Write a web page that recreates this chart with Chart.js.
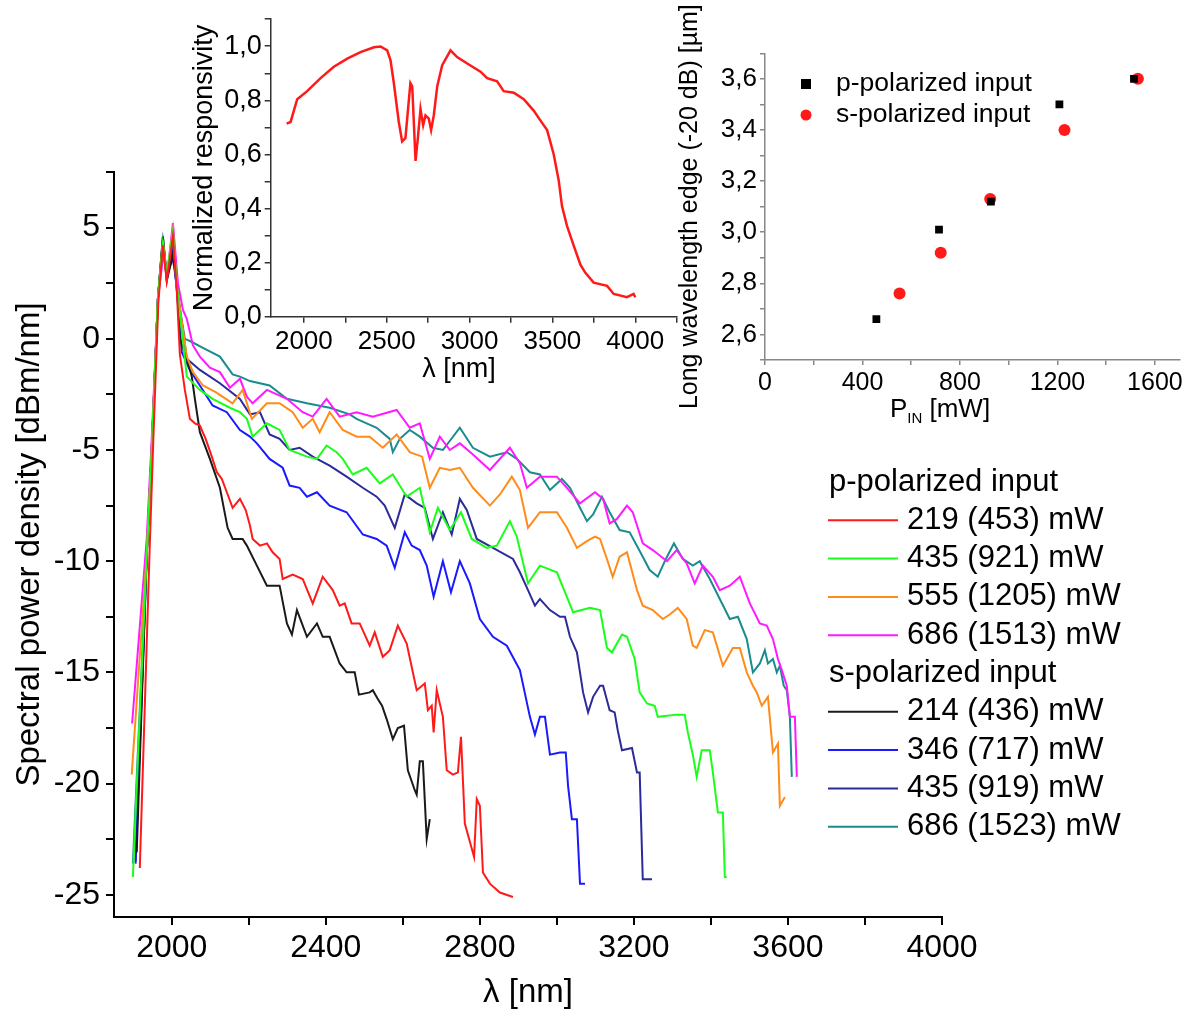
<!DOCTYPE html>
<html>
<head>
<meta charset="utf-8">
<script src="https://cdn.jsdelivr.net/npm/chart.js@4.4.1/dist/chart.umd.min.js"></script>
<style>
  body { margin: 0; background: #fff; }
  .wrap { position: relative; width: 1191px; height: 1013px; }
  canvas { position: absolute; }
</style>
</head>
<body>
<div class="wrap">
  <canvas id="spectra" width="1191" height="1013" style="left:0;top:0"></canvas>
  <canvas id="resp" width="550" height="400" style="left:150px;top:0"></canvas>
  <canvas id="edge" width="531" height="440" style="left:660px;top:0"></canvas>
</div>
<script>
// ---- main spectra: [wavelength nm, dBm/nm] ----
const p219 = [[1917,-23.8],[1943,-9.2],[1952,-4.6],[1965,1.6],[1977,4.2],[1987,2.6],[2003,4.6],[2013,2.2],[2021,-0.7],[2034,-2.3],[2047,-3.6],[2060,-3.8],[2073,-3.9],[2088,-4.5],[2104,-5.3],[2117,-6.0],[2130,-6.3],[2143,-6.9],[2158,-7.6],[2177,-7.2],[2192,-7.7],[2203,-8.4],[2210,-9.0],[2229,-9.3],[2247,-9.2],[2262,-9.6],[2280,-9.9],[2288,-10.8],[2314,-10.6],[2340,-10.8],[2366,-11.9],[2379,-11.3],[2392,-10.7],[2418,-11.3],[2436,-12.0],[2449,-11.9],[2467,-12.8],[2488,-12.8],[2514,-13.8],[2527,-13.2],[2548,-14.3],[2566,-14.0],[2587,-12.9],[2610,-13.7],[2636,-15.8],[2657,-15.5],[2665,-16.7],[2675,-16.5],[2680,-17.7],[2688,-15.8],[2704,-17.0],[2714,-19.4],[2730,-19.6],[2743,-19.5],[2751,-17.9],[2761,-21.8],[2785,-23.3],[2792,-20.7],[2800,-21.0],[2808,-24.0],[2826,-24.5],[2852,-24.9],[2886,-25.1]];
const p435 = [[1899,-24.2],[1935,-9.7],[1948,-5.0],[1964,1.8],[1977,4.3],[1987,2.9],[2003,4.8],[2013,2.4],[2039,-1.7],[2073,-2.3],[2106,-2.7],[2151,-3.1],[2177,-3.3],[2195,-3.6],[2210,-4.4],[2247,-3.8],[2280,-4.1],[2306,-5.0],[2351,-5.3],[2377,-5.4],[2402,-4.8],[2428,-5.1],[2444,-5.4],[2470,-6.1],[2506,-5.8],[2540,-6.5],[2574,-6.1],[2610,-7.1],[2644,-6.7],[2670,-8.7],[2691,-7.6],[2722,-8.6],[2751,-7.8],[2779,-9.0],[2818,-9.4],[2844,-9.3],[2878,-8.2],[2896,-8.9],[2925,-11.0],[2956,-10.2],[3000,-10.5],[3026,-11.6],[3042,-12.3],[3086,-12.1],[3112,-12.2],[3130,-13.9],[3143,-14.1],[3169,-13.3],[3182,-13.4],[3202,-14.4],[3215,-15.9],[3234,-16.4],[3254,-16.5],[3262,-17.0],[3311,-16.9],[3332,-16.9],[3340,-17.7],[3353,-18.7],[3363,-19.7],[3376,-18.5],[3397,-18.5],[3405,-19.5],[3418,-21.3],[3431,-21.3],[3436,-24.2],[3441,-24.2]];
const p555 = [[1896,-19.6],[1935,-9.7],[1948,-5.0],[1964,1.8],[1977,4.4],[1987,2.8],[2003,4.9],[2013,2.4],[2021,1.4],[2039,-0.8],[2055,-1.5],[2081,-2.1],[2114,-2.4],[2158,-2.9],[2184,-2.3],[2208,-3.6],[2247,-2.9],[2280,-2.9],[2314,-3.3],[2340,-4.0],[2366,-3.6],[2384,-4.2],[2410,-3.3],[2444,-4.1],[2480,-4.4],[2514,-4.4],[2548,-4.9],[2584,-4.3],[2618,-5.1],[2650,-5.3],[2670,-6.7],[2696,-5.8],[2722,-5.9],[2748,-5.8],[2782,-6.7],[2826,-7.5],[2852,-7.0],[2883,-6.2],[2904,-6.8],[2925,-8.5],[2956,-7.8],[3000,-7.8],[3026,-8.5],[3052,-9.4],[3078,-9.1],[3099,-8.9],[3112,-9.0],[3130,-9.9],[3145,-10.7],[3163,-9.8],[3182,-9.6],[3208,-11.3],[3223,-12.0],[3249,-12.2],[3275,-12.6],[3293,-12.4],[3314,-12.1],[3337,-12.6],[3353,-13.8],[3363,-13.9],[3384,-13.1],[3405,-13.2],[3431,-14.7],[3457,-13.9],[3475,-13.9],[3493,-15.0],[3509,-15.6],[3519,-15.9],[3532,-16.5],[3548,-16.1],[3561,-18.6],[3574,-18.2],[3579,-21.0],[3592,-20.6]];
const p686 = [[1897,-17.3],[1935,-9.0],[1948,-4.5],[1964,1.8],[1979,3.9],[1987,2.7],[2003,5.2],[2016,2.5],[2029,1.3],[2039,0.9],[2055,-0.3],[2073,-0.8],[2099,-1.3],[2125,-1.5],[2151,-2.2],[2177,-1.8],[2195,-2.6],[2210,-2.9],[2247,-2.3],[2299,-2.7],[2340,-3.3],[2366,-3.5],[2402,-2.7],[2436,-3.5],[2480,-3.3],[2522,-3.5],[2584,-3.2],[2618,-4.0],[2644,-3.8],[2670,-5.4],[2696,-4.4],[2722,-5.0],[2748,-4.7],[2782,-5.2],[2826,-5.9],[2878,-4.9],[2904,-5.6],[2922,-6.7],[2956,-6.2],[3000,-6.2],[3026,-6.7],[3060,-7.4],[3099,-6.9],[3120,-7.2],[3137,-8.3],[3156,-8.1],[3182,-7.5],[3197,-7.8],[3223,-9.2],[3249,-9.5],[3286,-10.0],[3311,-9.5],[3337,-10.1],[3358,-11.0],[3379,-10.2],[3405,-10.7],[3423,-11.3],[3449,-11.1],[3475,-10.7],[3501,-11.9],[3527,-12.8],[3545,-12.9],[3561,-13.5],[3574,-14.4],[3584,-14.9],[3597,-15.6],[3605,-17.0],[3618,-17.0],[3623,-19.7]];
const s214 = [[1909,-23.1],[1935,-9.7],[1948,-5.0],[1964,1.8],[1977,4.6],[1987,2.6],[2003,3.8],[2013,2.7],[2021,0.0],[2039,-0.9],[2052,-1.7],[2060,-2.7],[2073,-4.2],[2099,-5.4],[2125,-6.7],[2145,-8.5],[2158,-9.0],[2184,-9.0],[2195,-9.3],[2221,-10.2],[2247,-11.1],[2280,-11.1],[2299,-12.8],[2312,-13.3],[2325,-12.2],[2351,-13.4],[2377,-12.8],[2392,-13.4],[2410,-13.4],[2436,-14.6],[2454,-15.0],[2475,-15.0],[2486,-16.0],[2514,-15.9],[2522,-15.8],[2535,-16.2],[2546,-16.5],[2558,-17.1],[2574,-18.0],[2587,-17.5],[2603,-17.4],[2613,-19.4],[2631,-20.3],[2636,-20.5],[2644,-19.0],[2652,-19.0],[2662,-22.5],[2670,-21.6]];
const s346 = [[1906,-23.6],[1935,-9.7],[1948,-5.0],[1964,1.8],[1977,4.3],[1987,2.7],[2003,4.2],[2013,2.2],[2026,-0.6],[2047,-1.4],[2073,-2.1],[2106,-3.0],[2143,-3.3],[2177,-4.1],[2203,-4.4],[2221,-4.7],[2254,-5.4],[2288,-5.8],[2306,-6.6],[2332,-6.7],[2351,-7.1],[2377,-6.9],[2410,-7.5],[2454,-7.8],[2496,-8.8],[2532,-9.0],[2558,-9.3],[2579,-10.3],[2605,-8.7],[2623,-9.3],[2644,-9.5],[2662,-10.2],[2680,-11.6],[2704,-10.0],[2725,-11.4],[2748,-10.0],[2774,-11.0],[2800,-12.6],[2834,-13.4],[2870,-13.8],[2904,-14.9],[2930,-17.0],[2943,-17.8],[2956,-17.0],[2969,-17.0],[2982,-18.7],[3008,-18.6],[3023,-18.6],[3029,-20.1],[3039,-21.6],[3052,-21.6],[3060,-24.5],[3073,-24.5]];
const s435 = [[1906,-23.5],[1935,-9.7],[1948,-5.0],[1964,1.8],[1977,4.4],[1987,2.9],[2003,3.6],[2013,2.4],[2039,-0.9],[2073,-1.4],[2125,-2.0],[2177,-2.7],[2203,-3.4],[2229,-3.3],[2254,-4.3],[2280,-4.5],[2306,-5.0],[2332,-4.9],[2366,-5.3],[2410,-5.7],[2454,-6.2],[2496,-6.7],[2532,-7.1],[2553,-7.5],[2579,-8.5],[2605,-7.0],[2636,-7.4],[2657,-7.6],[2678,-9.0],[2704,-7.8],[2727,-8.8],[2748,-7.2],[2766,-7.7],[2792,-9.0],[2834,-9.4],[2886,-9.9],[2904,-10.5],[2925,-11.3],[2943,-12.0],[2956,-11.7],[2982,-12.2],[3008,-12.5],[3021,-12.5],[3034,-13.4],[3052,-14.1],[3068,-15.9],[3081,-16.8],[3094,-16.1],[3112,-15.6],[3120,-15.6],[3137,-16.7],[3150,-16.8],[3158,-17.6],[3169,-18.5],[3195,-18.4],[3208,-19.5],[3215,-19.5],[3223,-24.3],[3247,-24.3]];
const s686 = [[1899,-23.6],[1935,-9.7],[1948,-5.0],[1964,1.8],[1977,4.6],[1987,2.8],[2003,4.0],[2016,1.8],[2034,0.0],[2047,-0.1],[2091,-0.5],[2125,-0.8],[2158,-1.6],[2177,-1.7],[2203,-1.9],[2254,-2.1],[2299,-2.7],[2325,-2.8],[2351,-2.9],[2410,-3.1],[2462,-3.4],[2480,-3.6],[2506,-3.8],[2532,-4.0],[2566,-4.5],[2574,-5.1],[2592,-4.5],[2618,-4.1],[2644,-4.4],[2678,-4.9],[2704,-5.0],[2748,-4.0],[2782,-4.9],[2826,-5.3],[2870,-5.1],[2896,-5.4],[2930,-6.0],[2956,-6.1],[2982,-6.8],[3013,-6.3],[3034,-6.7],[3060,-7.6],[3078,-8.2],[3094,-7.9],[3117,-7.1],[3137,-7.8],[3163,-8.6],[3189,-8.7],[3223,-9.8],[3241,-10.4],[3262,-10.7],[3283,-9.9],[3304,-9.2],[3327,-9.9],[3353,-10.2],[3371,-10.0],[3397,-10.8],[3423,-11.7],[3449,-12.6],[3470,-12.5],[3493,-13.5],[3509,-15.0],[3527,-14.6],[3540,-14.0],[3548,-14.6],[3561,-14.4],[3571,-15.0],[3579,-14.7],[3589,-15.6],[3597,-15.8],[3605,-17.0],[3610,-19.7]];

const seriesData   = [p219, p435, p555, p686, s214, s346, s435, s686];
const seriesLabels = ['219 (453) mW', '435 (921) mW', '555 (1205) mW', '686 (1513) mW',
                      '214 (436) mW', '346 (717) mW', '435 (919) mW', '686 (1523) mW'];
const seriesColors = ['#ff1a1a', '#1aff1a', '#ff8c1a', '#ff1aff', '#1a1a1a', '#1a1aff', '#2b2b99', '#1a8c8c'];
const groupTitles  = ['p-polarized input', 's-polarized input'];

const mainXTicks = [2000,2200,2400,2600,2800,3000,3200,3400,3600,3800,4000];
const mainYTicks = [-25,-22.5,-20,-17.5,-15,-12.5,-10,-7.5,-5,-2.5,0,2.5,5,7.5];

// ---- inset: normalized responsivity ----
const respLambda = [1896,1920,1960,2020,2101,2181,2262,2342,2423,2463,2503,2523,2543,2573,2593,2613,2643,2654,2674,2688,2704,2720,2734,2754,2768,2784,2805,2835,2885,2925,2986,3066,3106,3166,3206,3267,3327,3387,3427,3468,3508,3538,3558,3588,3628,3669,3699,3749,3830,3870,3950,3990,4000];
const respValue  = [0.714,0.72,0.804,0.834,0.882,0.924,0.954,0.978,0.996,0.999,0.985,0.948,0.864,0.72,0.648,0.66,0.864,0.852,0.576,0.66,0.768,0.708,0.744,0.732,0.69,0.744,0.852,0.93,0.985,0.96,0.936,0.906,0.882,0.87,0.834,0.828,0.804,0.762,0.726,0.69,0.6,0.504,0.408,0.336,0.264,0.192,0.162,0.126,0.114,0.084,0.072,0.084,0.072];
const respXTicks = [2000,2250,2500,2750,3000,3250,3500,3750,4000,4250];
const respYTicks = [0,0.1,0.2,0.3,0.4,0.5,0.6,0.7,0.8,0.9,1.0,1.1];

// ---- inset: long wavelength edge vs input power ----
const pPower = [457, 714, 927, 1208, 1514];
const pEdge  = [2.66, 3.01, 3.12, 3.50, 3.60];
const sPower = [552, 721, 924, 1229, 1530];
const sEdge  = [2.76, 2.92, 3.13, 3.40, 3.60];
const edgeXTicks = [0,200,400,600,800,1000,1200,1400,1600];
const edgeYTicks = [2.5,2.6,2.7,2.8,2.9,3.0,3.1,3.2,3.3,3.4,3.5,3.6,3.7];

const FONT = '"Liberation Sans", Arial, sans-serif';
Chart.defaults.font.family = FONT;
Chart.defaults.color = '#000';

function comma(v) { return v.toFixed(1).replace('.', ','); }

function axisStyle(color, width, tickLen) {
  return {
    grid: { display: true, drawOnChartArea: false, drawTicks: true, tickLength: tickLen, color: color, lineWidth: width },
    border: { display: true, color: color, width: width }
  };
}

// legend to the right of the main plot
const sideLegend = {
  id: 'sideLegend',
  afterDraw(chart) {
    const ctx = chart.ctx;
    ctx.save();
    ctx.font = '31px ' + FONT;
    ctx.textBaseline = 'middle';
    ctx.fillStyle = '#000';
    let y = 482;
    const step = 38.3;
    groupTitles.forEach((title, g) => {
      ctx.fillText(title, 829, y);
      y += step;
      for (let i = g * 4; i < g * 4 + 4; i++) {
        ctx.strokeStyle = seriesColors[i];
        ctx.lineWidth = 2;
        ctx.beginPath();
        ctx.moveTo(828, y);
        ctx.lineTo(898, y);
        ctx.stroke();
        ctx.fillText(seriesLabels[i], 907, y);
        y += step;
      }
    });
    ctx.restore();
  }
};

new Chart(document.getElementById('spectra'), {
  type: 'line',
  data: {
    datasets: seriesData.map((d, i) => ({
      label: seriesLabels[i],
      data: d.map(([x, y]) => ({ x, y })),
      borderColor: seriesColors[i],
      borderWidth: 2,
      pointRadius: 0,
      tension: 0,
      fill: false
    }))
  },
  options: {
    responsive: false,
    animation: false,
    layout: { padding: { left: 0, top: 172, right: 249, bottom: 0 } },
    plugins: { legend: { display: false }, tooltip: { enabled: false } },
    scales: {
      x: {
        type: 'linear', min: 1850, max: 4000,
        ...axisStyle('#000', 2, 8),
        afterBuildTicks: s => { s.ticks = mainXTicks.map(v => ({ value: v })); },
        afterFit: s => { s.height = 96; },
        ticks: { autoSkip: false, maxRotation: 0, padding: 4, font: { size: 32 },
                 callback: v => (v % 400 === 0 ? String(v) : '') },
        title: { display: true, text: 'λ [nm]', font: { size: 33 }, padding: { top: 0, bottom: 0 } }
      },
      y: {
        type: 'linear', min: -26, max: 7.5,
        ...axisStyle('#000', 2, 8),
        afterBuildTicks: s => { s.ticks = mainYTicks.map(v => ({ value: v })); },
        afterFit: s => { s.width = 114; },
        ticks: { autoSkip: false, padding: 6, font: { size: 32 },
                 callback: v => (v % 5 === 0 ? String(v) : '') },
        title: { display: true, text: 'Spectral power density [dBm/nm]', font: { size: 33 }, padding: { top: 10, bottom: 0 } }
      }
    }
  },
  plugins: [sideLegend]
});

// x caption of the responsivity inset, offset to the left as in the original
const respCaption = {
  id: 'respCaption',
  afterDraw(chart) {
    const ctx = chart.ctx;
    ctx.save();
    ctx.font = '27px ' + FONT;
    ctx.fillStyle = '#000';
    ctx.textAlign = 'center';
    ctx.textBaseline = 'middle';
    ctx.fillText('λ [nm]', 309, 370);
    ctx.restore();
  }
};

new Chart(document.getElementById('resp'), {
  type: 'line',
  data: {
    datasets: [{
      data: respLambda.map((x, i) => ({ x, y: respValue[i] })),
      borderColor: '#ff1a1a', borderWidth: 2.5, pointRadius: 0, tension: 0
    }]
  },
  options: {
    responsive: false,
    animation: false,
    layout: { padding: { left: 0, top: 11.7, right: 23.3, bottom: 0 } },
    plugins: { legend: { display: false }, tooltip: { enabled: false } },
    scales: {
      x: {
        type: 'linear', min: 1800, max: 4250,
        ...axisStyle('#333', 1.5, 6),
        afterBuildTicks: s => { s.ticks = respXTicks.map(v => ({ value: v })); },
        afterFit: s => { s.height = 83.3; },
        ticks: { autoSkip: false, maxRotation: 0, padding: 4, font: { size: 26 },
                 callback: v => (v % 500 === 0 ? String(v) : '') }
      },
      y: {
        type: 'linear', min: 0, max: 1.1,
        ...axisStyle('#333', 1.5, 6),
        afterBuildTicks: s => { s.ticks = respYTicks.map(v => ({ value: v })); },
        afterFit: s => { s.width = 120.7; },
        ticks: { autoSkip: false, padding: 3, font: { size: 27 },
                 callback: v => { const k = Math.round(v * 10); return (k % 2 === 0 && k <= 10) ? comma(k / 10) : ''; } },
        title: { display: true, text: 'Normalized responsivity', font: { size: 27 }, padding: { top: 38, bottom: 0 } }
      }
    }
  },
  plugins: [respCaption]
});

// inset legend + subscripted axis title
const edgeDecor = {
  id: 'edgeDecor',
  afterDraw(chart) {
    const ctx = chart.ctx;
    ctx.save();
    ctx.fillStyle = '#000';
    ctx.font = '26.5px ' + FONT;
    ctx.textBaseline = 'middle';
    chart.data.datasets.forEach((ds, i) => {
      const y = 84 + i * 31;
      ctx.fillStyle = ds.backgroundColor;
      ctx.beginPath();
      if (ds.pointStyle === 'rect') ctx.rect(141, y - 5, 10, 10);
      else ctx.arc(146, y, 5.5, 0, Math.PI * 2);
      ctx.fill();
      ctx.fillStyle = '#000';
      ctx.fillText(ds.label, 176, y);
    });
    // P_IN [mW]
    const big = '26px ' + FONT, small = '15px ' + FONT;
    ctx.textBaseline = 'alphabetic';
    ctx.font = big;
    const wP = ctx.measureText('P').width, wU = ctx.measureText(' [mW]').width;
    ctx.font = small;
    const wS = ctx.measureText('IN').width;
    let x = 280 - (wP + wS + wU) / 2;
    const base = 417;
    ctx.font = big; ctx.fillText('P', x, base); x += wP;
    ctx.font = small; ctx.fillText('IN', x, base + 6); x += wS;
    ctx.font = big; ctx.fillText(' [mW]', x, base);
    ctx.restore();
  }
};

new Chart(document.getElementById('edge'), {
  type: 'scatter',
  data: {
    datasets: [
      { label: 'p-polarized input', data: pPower.map((x, i) => ({ x, y: pEdge[i] })),
        pointStyle: 'rect', pointRadius: 5.5, backgroundColor: '#000', borderColor: '#000', borderWidth: 0 },
      { label: 's-polarized input', data: sPower.map((x, i) => ({ x, y: sEdge[i] })),
        pointStyle: 'circle', pointRadius: 6, backgroundColor: '#ff1a1a', borderColor: '#ff1a1a', borderWidth: 0 }
    ]
  },
  options: {
    responsive: false,
    animation: false,
    layout: { padding: { left: 0, top: 53.3, right: 11.7, bottom: 0 } },
    plugins: { legend: { display: false }, tooltip: { enabled: false } },
    scales: {
      x: {
        type: 'linear', min: 0, max: 1700,
        ...axisStyle('#888', 1.5, 5),
        afterBuildTicks: s => { s.ticks = edgeXTicks.map(v => ({ value: v })); },
        afterFit: s => { s.height = 80; },
        ticks: { autoSkip: false, maxRotation: 0, padding: 3, font: { size: 25 },
                 callback: v => (v % 400 === 0 ? String(v) : '') }
      },
      y: {
        type: 'linear', min: 2.5, max: 3.7,
        ...axisStyle('#888', 1.5, 5),
        afterBuildTicks: s => { s.ticks = edgeYTicks.map(v => ({ value: v })); },
        afterFit: s => { s.width = 105; },
        ticks: { autoSkip: false, padding: 3, font: { size: 26 },
                 callback: v => { const k = Math.round(v * 10); return k % 2 === 0 ? comma(k / 10) : ''; } },
        title: { display: true, text: 'Long wavelength edge (-20 dB) [µm]', font: { size: 25 }, padding: { top: 15, bottom: 0 } }
      }
    }
  },
  plugins: [edgeDecor]
});
</script>
</body>
</html>
